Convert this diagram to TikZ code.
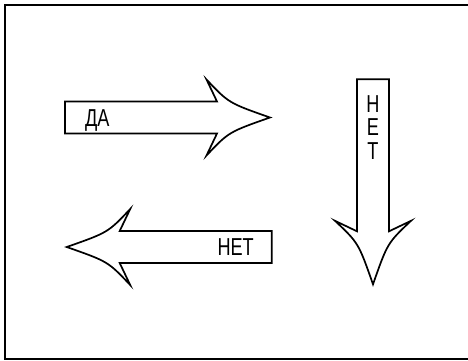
\documentclass[tikz,border=0pt]{standalone}
\usepackage{fontspec}
\setmainfont{Liberation Sans}
\newfontfamily\narrowfont[FakeStretch=0.74]{Liberation Sans}
\tikzset{
  arrowline/.style={draw=black, line width=1.7pt, line join=miter, fill=white},
  frameline/.style={draw=black, line width=2pt},
  lbl/.style={font=\narrowfont\fontsize{24.5}{23.3}\selectfont, inner sep=0pt, text=black},
  bigarrow/.pic={
    \path[arrowline] (-205,-16) -- (-53,-16) -- (-63.5,-38)
      .. controls (-41.3,-14.5) .. (0,0)
      .. controls (-41.3,14.5) .. (-63.5,38)
      -- (-53,16) -- (-205,16) -- cycle;
  }
}
\begin{document}
\begin{tikzpicture}[x=1pt,y=-1pt]
\useasboundingbox (0,0) rectangle (468,360);
\draw[frameline] (4.5,5) rectangle (475,358.5);
\pic at (270,117.5) {bigarrow};
\pic[rotate=180] at (66.7,247) {bigarrow};
\pic[rotate=-90] at (373,284.3) {bigarrow};
\node[lbl, anchor=base west] (da) at (85,126.7) {ДА};
\node[lbl, anchor=base east] (net1) at (254,255.7) {НЕТ};
\node[lbl, anchor=north, align=center] (net2) at (373,95.5) {Н\\Е\\Т};
\end{tikzpicture}
\end{document}
